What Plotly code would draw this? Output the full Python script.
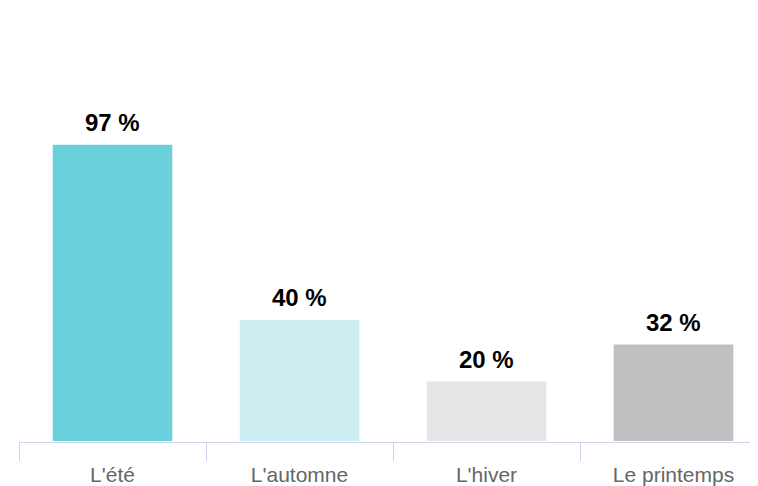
import plotly.graph_objects as go

categories = ["L'été", "L'automne", "L'hiver", "Le printemps"]
values = [97, 40, 20, 32]
labels = ["97 %", "40 %", "20 %", "32 %"]
colors = ["#6AD1DC", "#CDECF0", "#E6E6E6", "#C0C0C0"]

# page body has an 8px margin; size the figure so it fits the 758x486 window
W, H = 750, 478
ml, mr, mt, mb = 11, 0, 10, 44
px_per_cat = 187
px_per_unit = 3.075

plot_w = W - ml - mr
plot_h = H - mt - mb

fig = go.Figure(go.Bar(
    x=categories,
    y=values,
    marker=dict(color=colors, line=dict(color="white", width=2)),
    cliponaxis=False,
    width=0.65,
    hoverinfo="x+y",
))

for c, v, t in zip(categories, values, labels):
    fig.add_annotation(
        x=c, y=v, text="<b>%s</b>" % t, showarrow=False,
        yanchor="bottom", xanchor="center", yshift=6,
        font=dict(family="Liberation Sans, Arial", size=24, color="#000000"),
    )

fig.update_layout(
    width=W, height=H,
    margin=dict(l=ml, r=mr, t=mt, b=mb),
    paper_bgcolor="white", plot_bgcolor="white",
    showlegend=False,
    font=dict(family="Liberation Sans, Arial"),
    xaxis=dict(
        type="category",
        range=[-0.5, -0.5 + plot_w / px_per_cat],
        showline=True, linecolor="#ccd6eb", linewidth=1,
        ticks="outside", tickson="boundaries", ticklen=18, tickcolor="#ccd6eb", tickwidth=1,
        ticklabelstandoff=14,
        tickfont=dict(size=21, color="#666666"),
        showgrid=False, zeroline=False,
        layer="below traces",
        automargin=False,
    ),
    yaxis=dict(
        range=[0, plot_h / px_per_unit],
        visible=False, showgrid=False, zeroline=False,
    ),
)

fig.write_html("out.html")
